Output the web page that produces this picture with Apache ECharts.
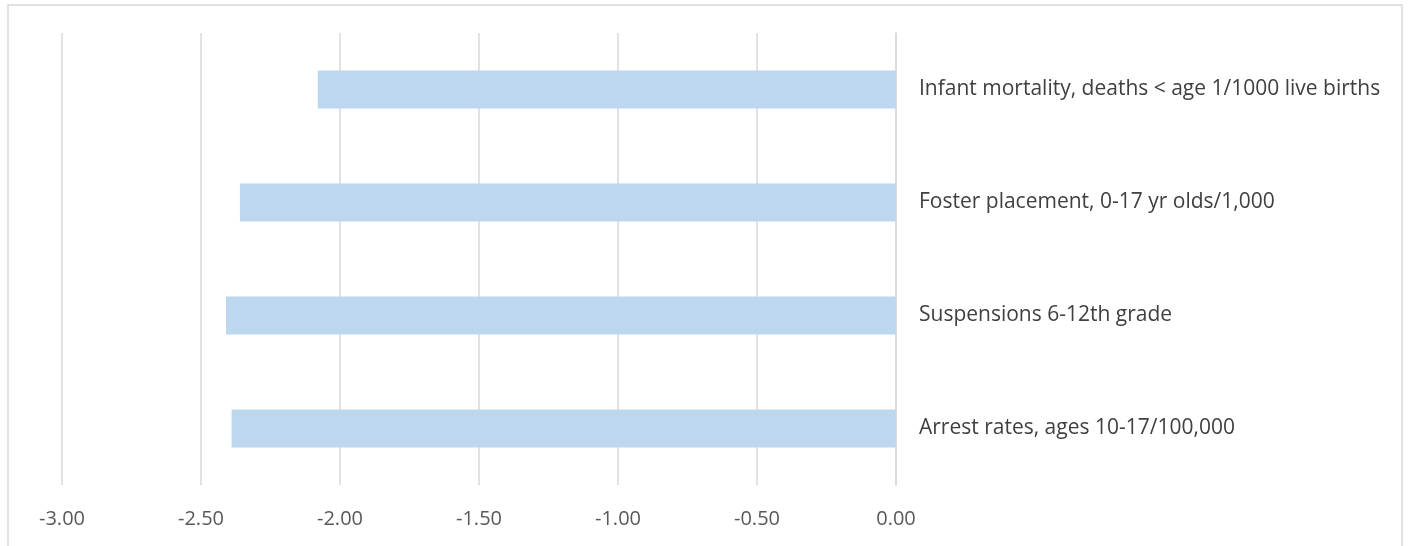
<!DOCTYPE html>
<html>
<head>
<meta charset="utf-8">
<script src="https://cdn.jsdelivr.net/npm/echarts@6/dist/echarts.min.js"></script>
<style>
  html, body { margin: 0; padding: 0; background: #fff; }
  #chart { width: 1411px; height: 546px; }
</style>
</head>
<body>
<div id="chart"></div>
<script>
const categories = [
  'Infant mortality, deaths < age 1/1000 live births',
  'Foster placement, 0-17 yr olds/1,000',
  'Suspensions 6-12th grade',
  'Arrest rates, ages 10-17/100,000'
];
const values = [-2.08, -2.36, -2.41, -2.39];

const chart = echarts.init(document.getElementById('chart'));

const option = {
  animation: false,
  textStyle: { fontFamily: 'Open Sans' },
  graphic: [{
    type: 'rect',
    shape: { x: 8, y: 5, width: 1394, height: 600 },
    style: { fill: 'none', stroke: '#d9d9d9', lineWidth: 1.5 },
    silent: true
  }],
  grid: { left: 62, right: 515, top: 33, bottom: 61 },
  xAxis: {
    type: 'value',
    min: -3,
    max: 0,
    interval: 0.5,
    axisLine: { show: false },
    axisTick: { show: false },
    splitLine: { lineStyle: { color: '#d9d9d9', width: 1.5 } },
    axisLabel: {
      color: '#595959',
      fontSize: 20,
      margin: 24,
      formatter: v => v.toFixed(2)
    }
  },
  yAxis: {
    type: 'category',
    data: categories,
    inverse: true,
    position: 'right',
    axisLine: { show: true, lineStyle: { color: '#d9d9d9', width: 1.5 } },
    axisTick: { show: false },
    axisLabel: {
      color: '#404040',
      fontSize: 21,
      margin: 23,
      align: 'left',
      padding: [5, 0, 0, 0]
    }
  },
  series: [{
    type: 'bar',
    data: values,
    barWidth: 38,
    itemStyle: { color: '#bdd7ee' }
  }]
};

chart.setOption(option);
</script>
</body>
</html>
